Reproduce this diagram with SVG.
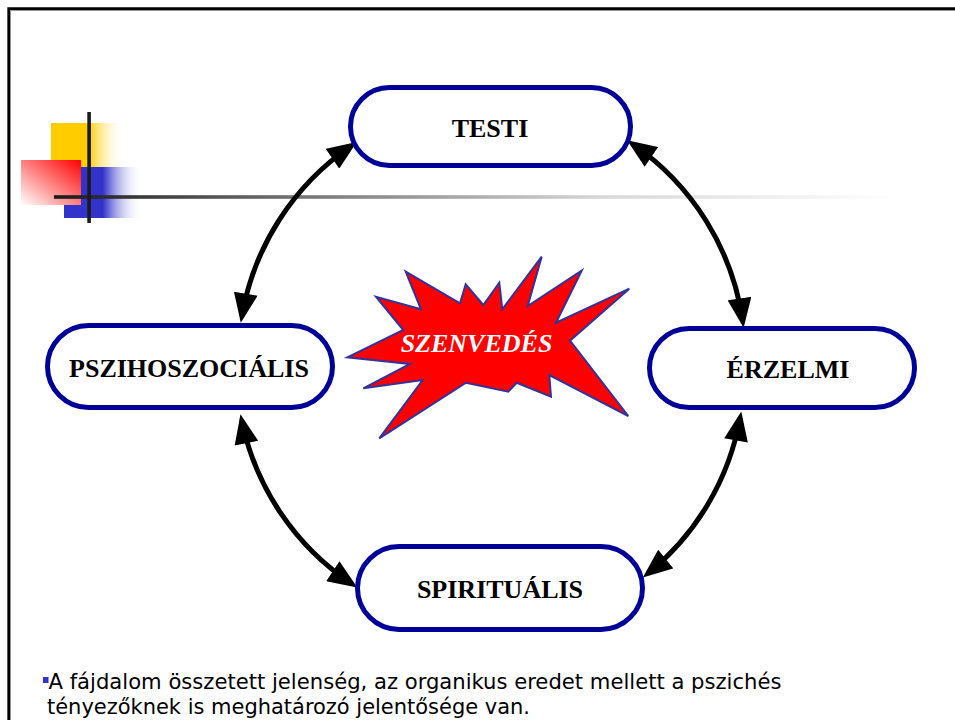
<svg xmlns="http://www.w3.org/2000/svg" width="955" height="720" viewBox="0 0 955 720">
  <style>
    .box { fill: #ffffff; stroke: #000099; stroke-width: 5; }
    .lbl { font-family: "Liberation Serif", "Times New Roman", serif; font-weight: bold; font-size: 26px; fill: #000000; text-anchor: middle; }
    .link { fill: none; stroke: #000000; stroke-width: 5; marker-start: url(#head); marker-end: url(#head); }
    .body { font-family: "DejaVu Sans Condensed", "DejaVu Sans", sans-serif; font-size: 22px; fill: #000000; }
  </style>
  <defs>
    <marker id="head" markerUnits="userSpaceOnUse" markerWidth="30" markerHeight="24" refX="21" refY="11" orient="auto-start-reverse" viewBox="0 0 27 22">
      <path d="M0,0 L27,11 L0,22 Z" fill="#000000"/>
    </marker>
    <linearGradient id="yellowFade" x1="0" y1="0" x2="1" y2="0">
      <stop offset="0" stop-color="#ffcc00"/>
      <stop offset="0.5" stop-color="#ffcc00"/>
      <stop offset="1" stop-color="#ffffff" stop-opacity="0"/>
    </linearGradient>
    <linearGradient id="blueFade" x1="0" y1="0" x2="1" y2="0">
      <stop offset="0" stop-color="#3333cc"/>
      <stop offset="0.5" stop-color="#3333cc"/>
      <stop offset="1" stop-color="#ffffff" stop-opacity="0"/>
    </linearGradient>
    <linearGradient id="redFade" x1="1" y1="0" x2="0" y2="1">
      <stop offset="0" stop-color="#ff0000"/>
      <stop offset="1" stop-color="#ffffff"/>
    </linearGradient>
    <linearGradient id="ruleFade" gradientUnits="userSpaceOnUse" x1="54" y1="0" x2="900" y2="0">
      <stop offset="0" stop-color="#1a1a1a"/>
      <stop offset="0.3" stop-color="#777777"/>
      <stop offset="0.65" stop-color="#d8d8d8"/>
      <stop offset="1" stop-color="#ffffff"/>
    </linearGradient>
  </defs>

  <rect width="955" height="720" fill="#ffffff"/>

  <!-- slide frame -->
  <path d="M10.5,720 V10.5 H955" fill="none" stroke="#999999" stroke-width="1"/>
  <path d="M8.7,720 V8.7 H955" fill="none" stroke="#000000" stroke-width="2.7"/>

  <!-- title ornament -->
  <g id="ornament">
    <rect x="51" y="123" width="74" height="45" fill="url(#yellowFade)"/>
    <rect x="64" y="167" width="78" height="51" fill="url(#blueFade)"/>
    <rect x="21" y="160" width="60" height="45" fill="url(#redFade)"/>
    <rect x="54" y="195.2" width="846" height="3.6" fill="url(#ruleFade)"/>
    <rect x="87.3" y="112" width="3.6" height="111" fill="#1a1a1a"/>
  </g>

  <!-- curved double-headed connectors -->
  <g id="connectors">
    <path class="link" d="M351.4,145.8 A259,259 0 0,0 241.9,316.3"/>
    <path class="link" d="M632.5,144 A259,259 0 0,1 742.7,321.2"/>
    <path class="link" d="M241.8,420.7 A259,259 0 0,0 351.9,583.9"/>
    <path class="link" d="M740.1,417.9 A259,259 0 0,1 647.9,573.5"/>
  </g>

  <g id="testi">
    <rect class="box" x="350.5" y="87.5" width="280" height="78" rx="39"/>
    <text class="lbl" x="490" y="137">TESTI</text>
  </g>

  <g id="pszihoszocialis">
    <rect class="box" x="47.5" y="325.5" width="285" height="82" rx="41"/>
    <text class="lbl" x="189" y="377">PSZIHOSZOCIÁLIS</text>
  </g>

  <g id="erzelmi">
    <rect class="box" x="649.5" y="328.5" width="265" height="79" rx="39.5"/>
    <text class="lbl" x="788" y="378">ÉRZELMI</text>
  </g>

  <g id="spiritualis">
    <rect class="box" x="357.5" y="546.5" width="285" height="83" rx="41.5"/>
    <text class="lbl" x="500" y="598">SPIRITUÁLIS</text>
  </g>

  <!-- central burst -->
  <g id="szenvedes">
    <polygon points="347.3,357.3 403.3,330 376,296.7 421,309.3 405.7,271.7 460,303.3 465.7,284.3 483.3,305 499.3,282.7 502.3,309.3 541.7,256.7 527.7,306 581.7,270.7 556,322.7 629.3,288.7 570,340.7 628.3,416 549.3,375 551,396.7 516.7,382.7 508.3,391.7 466,382.7 379.3,438.3 422.7,380 363.3,388.3 410,364" fill="#ff0000" stroke="#333399" stroke-width="2" stroke-linejoin="miter"/>
    <text x="476.5" y="352" font-family="Liberation Serif, 'Times New Roman', serif" font-weight="bold" font-style="italic" font-size="26" fill="#ffffff" text-anchor="middle">SZENVEDÉS</text>
  </g>

  <!-- footnote -->
  <g id="note">
    <rect x="43" y="677" width="5.5" height="6" fill="#3333cc"/>
    <text class="body" x="48.5" y="689" textLength="733" lengthAdjust="spacingAndGlyphs">A fájdalom összetett jelenség, az organikus eredet mellett a pszichés</text>
    <text class="body" x="47" y="714" textLength="483" lengthAdjust="spacingAndGlyphs">tényezőknek is meghatározó jelentősége van.</text>
  </g>
</svg>
